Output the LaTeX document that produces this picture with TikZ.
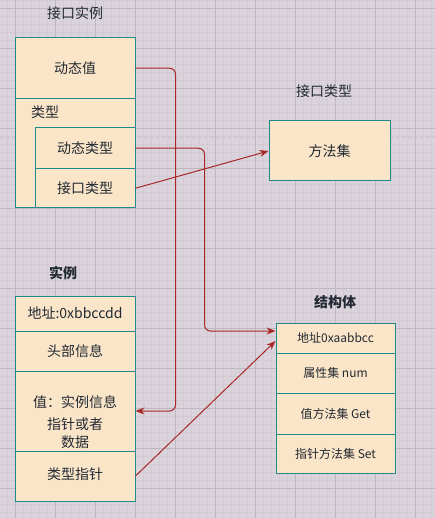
\documentclass[tikz,border=0pt]{standalone}
\usepackage{fontspec}
\setmainfont{Noto Sans CJK SC}
\usetikzlibrary{arrows.meta}
\definecolor{bgc}{HTML}{DBD3DB}
\definecolor{minorc}{HTML}{D3CAD3}
\definecolor{majorc}{HTML}{BEB7BF}
\definecolor{dashc}{HTML}{CAC2CA}
\definecolor{cellfill}{HTML}{FBE5C8}
\definecolor{cellline}{HTML}{1F8A8A}
\definecolor{linkc}{HTML}{A82828}
\definecolor{txtc}{HTML}{222A33}
\begin{document}
\begin{tikzpicture}[x=1pt,y=-1pt,
  cell/.style={draw=cellline,fill=cellfill,line width=1pt,inner sep=0pt,
    font=\fontsize{14}{17}\selectfont,text=txtc},
  small/.style={cell,font=\fontsize{12}{15}\selectfont},
  title/.style={font=\fontsize{14}{17}\selectfont,text=txtc,inner sep=0pt},
  link/.style={draw=linkc,line width=1pt,rounded corners=6pt,-{Stealth[length=9pt,width=7pt]}}]
\useasboundingbox (0,0) rectangle (435,518);
\fill[bgc] (0,0) rectangle (435,518);
% grid
\foreach \i in {0,...,54} {\draw[minorc,line width=0.6pt] (7+8*\i,0) -- (7+8*\i,518);}
\foreach \i in {0,...,65} {\draw[minorc,line width=0.6pt] (0,8*\i) -- (435,8*\i);}
\foreach \i in {0,...,10} {\draw[majorc,line width=0.8pt] (15+40*\i,0) -- (15+40*\i,518);}
\foreach \i in {0,...,12} {\draw[majorc,line width=0.8pt] (0,8+40*\i) -- (435,8+40*\i);}
\draw[dashc,dash pattern=on 3pt off 3pt,line width=0.6pt] (0,137) -- (435,137);
% interface instance
\node[title] (t1) at (75,13) {接口实例};
\node[cell,minimum width=120,minimum height=60.5] (dv) at (75,68.25) {动态值};
\node[cell,minimum width=120,minimum height=109.5] (typ) at (75,153.25) {};
\node[title] (typl) at (45,112) {类型};
\node[cell,minimum width=100,minimum height=40.5] (dt) at (85,148.25) {动态类型};
\node[cell,minimum width=100,minimum height=39.5] (it) at (85,188.25) {接口类型};
% interface type
\node[title] (t2) at (324,91) {接口类型};
\node[cell,minimum width=121,minimum height=60] (ms) at (329.5,151) {方法集};
% instance
\node[title,font=\fontsize{14}{17}\selectfont\bfseries] (t3) at (63,273) {实例};
\node[cell,minimum width=120,minimum height=35] (addr) at (75,313.5) {地址:0xbbccdd};
\node[cell,minimum width=120,minimum height=40] (head) at (75,351) {头部信息};
\node[cell,minimum width=120,minimum height=80] (val) at (75,411) {};
\node[title,align=center,font=\fontsize{14}{18}\selectfont] (valt) at (75,422) {值：实例信息\\[4pt]指针或者\\数据};
\node[cell,minimum width=120,minimum height=50,text depth=5pt] (tp) at (75,476) {类型指针};
% struct
\node[title,font=\fontsize{14}{17}\selectfont\bfseries] (t4) at (335,302) {结构体};
\node[small,minimum width=119,minimum height=30] (sa) at (335.5,338) {地址0xaabbcc};
\node[small,minimum width=119,minimum height=40] (sb) at (335.5,373) {属性集 num};
\node[small,minimum width=119,minimum height=41] (sc) at (335.5,413.5) {值方法集 Get};
\node[small,minimum width=119,minimum height=39] (sd) at (335.5,453.5) {指针方法集 Set};
% links
\draw[link] (dv.east) -| ([xshift=40pt]val.east) -- (val.east);
\draw[link] (dt.east) -| ([xshift=-71pt,yshift=7pt]sa.west) -- ([yshift=7pt]sa.west);
\draw[link] (it.east) -- (ms.west);
\draw[link] (tp.east) -- ([yshift=-3pt]sa.west);
\end{tikzpicture}
\end{document}
